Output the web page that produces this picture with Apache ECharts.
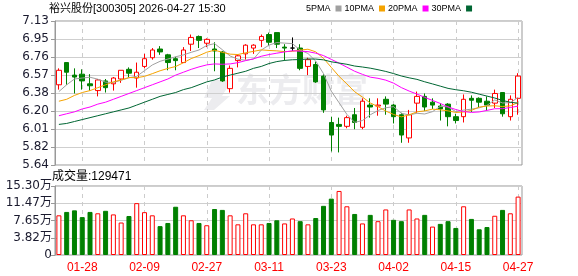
<!DOCTYPE html>
<html><head><meta charset="utf-8">
<script src="https://cdn.jsdelivr.net/npm/echarts@6/dist/echarts.min.js"></script>
<style>html,body{margin:0;padding:0;background:#fff}#c{width:578px;height:276px}</style>
</head><body><div id="c"></div>
<script>
const dates=['01-23','01-26','01-27','01-28','01-29','01-30','02-02','02-03','02-04','02-05','02-06','02-09','02-10','02-11','02-12','02-13','02-24','02-25','02-26','02-27','03-02','03-03','03-04','03-05','03-06','03-09','03-10','03-11','03-12','03-13','03-16','03-17','03-18','03-19','03-20','03-23','03-24','03-25','03-26','03-27','03-30','03-31','04-01','04-02','04-03','04-07','04-08','04-09','04-10','04-13','04-14','04-15','04-16','04-17','04-20','04-21','04-22','04-23','04-24','04-27'];
const opens=[6.47,6.70,6.57,6.58,6.48,6.41,6.51,6.48,6.53,6.63,6.54,6.66,6.75,6.84,6.78,6.74,6.70,6.89,6.97,6.90,6.84,6.81,6.43,6.72,6.79,6.85,6.93,6.99,7.01,6.86,6.85,6.85,6.66,6.68,6.56,6.08,6.06,6.04,6.16,6.03,6.26,6.25,6.32,6.26,6.16,5.92,6.28,6.35,6.29,6.25,6.27,6.14,6.14,6.33,6.33,6.30,6.28,6.39,6.14,6.33];
const closes=[6.62,6.60,6.55,6.51,6.46,6.52,6.44,6.54,6.62,6.59,6.60,6.74,6.83,6.81,6.70,6.72,6.83,6.96,6.93,6.94,6.82,6.51,6.64,6.77,6.88,6.88,6.97,6.91,6.89,6.85,6.85,6.64,6.73,6.50,6.21,5.95,6.04,6.13,6.08,6.30,6.24,6.26,6.27,6.14,5.95,6.16,6.35,6.24,6.26,6.22,6.14,6.10,6.32,6.31,6.29,6.26,6.38,6.17,6.32,6.56];
const lows=[6.42,6.47,6.38,6.42,6.41,6.35,6.39,6.41,6.49,6.55,6.44,6.64,6.73,6.78,6.62,6.62,6.70,6.82,6.85,6.86,6.61,6.50,6.39,6.65,6.73,6.79,6.86,6.87,6.85,6.72,6.82,6.62,6.57,6.49,6.18,5.78,5.77,6.02,6.01,6.01,6.13,6.15,6.16,6.07,5.87,5.87,6.18,6.20,6.22,6.10,6.04,6.07,6.08,6.19,6.24,6.20,6.23,6.14,6.10,6.16];
const highs=[6.64,6.70,6.64,6.63,6.58,6.53,6.53,6.55,6.62,6.65,6.70,6.79,6.85,6.87,6.79,6.76,6.86,6.99,6.98,6.95,6.91,6.82,6.67,6.78,6.89,6.89,6.99,7.01,7.01,6.89,6.96,6.89,6.75,6.71,6.58,6.14,6.13,6.15,6.23,6.33,6.33,6.33,6.35,6.27,6.18,6.21,6.40,6.38,6.33,6.28,6.28,6.17,6.37,6.36,6.34,6.35,6.42,6.39,6.36,6.59];
const ma5=[6.40,6.47,6.53,6.54,6.548,6.528,6.497,6.494,6.517,6.542,6.558,6.616,6.675,6.713,6.736,6.760,6.779,6.806,6.830,6.877,6.896,6.833,6.768,6.735,6.724,6.736,6.829,6.881,6.907,6.901,6.896,6.829,6.794,6.715,6.585,6.404,6.284,6.164,6.081,6.100,6.159,6.204,6.232,6.244,6.175,6.158,6.175,6.168,6.192,6.246,6.242,6.192,6.208,6.218,6.232,6.257,6.313,6.282,6.285,6.339];
const ma10=[6.30,6.32,6.36,6.39,6.41,6.44,6.47,6.50,6.52,6.545,6.543,6.557,6.585,6.615,6.639,6.659,6.698,6.741,6.772,6.807,6.828,6.806,6.787,6.783,6.801,6.816,6.831,6.825,6.821,6.813,6.816,6.829,6.838,6.811,6.743,6.650,6.557,6.479,6.398,6.343,6.282,6.244,6.198,6.163,6.138,6.159,6.190,6.200,6.218,6.211,6.200,6.184,6.188,6.205,6.239,6.250,6.253,6.245,6.252,6.286];
const ma20=[6.15,6.17,6.19,6.22,6.24,6.27,6.29,6.32,6.35,6.38,6.41,6.44,6.47,6.50,6.53,6.57,6.60,6.63,6.655,6.676,6.686,6.682,6.686,6.699,6.720,6.738,6.765,6.783,6.797,6.810,6.822,6.818,6.813,6.797,6.772,6.733,6.694,6.652,6.610,6.578,6.549,6.537,6.518,6.487,6.441,6.405,6.374,6.340,6.308,6.277,6.241,6.214,6.193,6.184,6.189,6.205,6.222,6.223,6.235,6.249];
const ma30=[6.06,6.07,6.09,6.11,6.13,6.15,6.17,6.19,6.21,6.23,6.26,6.29,6.32,6.35,6.37,6.39,6.42,6.44,6.47,6.50,6.52,6.55,6.57,6.59,6.61,6.64,6.66,6.69,6.71,6.722,6.729,6.731,6.737,6.736,6.728,6.708,6.695,6.682,6.664,6.654,6.642,6.626,6.608,6.586,6.561,6.542,6.526,6.501,6.479,6.456,6.433,6.419,6.408,6.393,6.373,6.353,6.333,6.308,6.289,6.280];
const volumes=[88000,95500,99000,84000,95500,92500,98000,90000,72000,86500,115000,95000,88000,64000,71000,107000,88000,77000,71000,66000,102000,100000,88000,68000,92500,68000,68000,71000,77000,70000,81000,75000,68000,82000,109000,125000,142000,108000,91000,70000,89000,75000,101000,78000,75000,101000,81000,89000,63000,69000,75000,60000,108000,80000,57000,62000,87000,100000,92500,129471];
const volUp=[1,0,0,0,0,1,0,1,1,0,1,1,1,0,0,0,1,1,0,1,0,0,1,1,1,1,1,0,0,1,1,0,1,0,0,0,1,1,0,1,0,1,1,0,0,1,1,0,1,0,0,0,1,0,0,0,1,0,1,1];
const priceLabels=['5.64','5.82','6.01','6.20','6.38','6.57','6.76','6.95','7.13'];
const volLabels=['0','3.82万','7.65万','11.47万','15.30万'];
const priceMin=5.64, priceMax=7.13;
const volMax=153000, volStep=38250;
const titleText='裕兴股份[300305] 2026-04-27 15:30';
const volText='成交量:129471';

const kData=opens.map((o,i)=>[o,closes[i],lows[i],highs[i]]);
const volData=volumes.map((v,i)=>({value:v,itemStyle:volUp[i]?{color:'#fff',borderColor:'#ff0000',borderWidth:1}:{color:'#008000',borderColor:'#008000',borderWidth:1}}));
const showIdx=(i)=>i%8===3;
const labelFont='DejaVu Sans';

const chart=echarts.init(document.getElementById('c'),null,{renderer:'canvas'});
chart.setOption({
  animation:false,
  backgroundColor:'#fff',
  title:{text:titleText,left:49,top:3,padding:0,textStyle:{fontSize:11,fontWeight:'normal',color:'#000',fontFamily:'Liberation Sans, Noto Sans CJK SC'}},
  legend:{left:306,top:4,padding:0,align:'right',icon:'rect',itemWidth:6,itemHeight:6,itemGap:3,
    textStyle:{fontSize:9,color:'#000',fontFamily:'Liberation Sans'},
    data:['5PMA','10PMA','20PMA','30PMA']},
  graphic:[
    {type:'polygon',z:0,silent:true,shape:{points:[[212,80],[232,80],[222,96],[230,96],[214,110],[204,110],[212,98],[204,98]]},style:{fill:'#ececef'}},
    {type:'text',left:236,top:73,z:0,silent:true,style:{text:'东方财富',fill:'#ececef',font:'bold 33px "Noto Sans CJK SC"'}},
    {type:'text',left:52,top:171,silent:true,style:{text:volText,fill:'#000',font:'12px "Liberation Sans","Noto Sans CJK SC"'}}
  ],
  grid:[
    {left:55,right:56,top:21,height:144,show:true,borderColor:'#999',borderWidth:1,backgroundColor:'transparent'},
    {left:55,right:56,top:186,height:69,show:true,borderColor:'#999',borderWidth:1,backgroundColor:'transparent'}
  ],
  xAxis:[
    {type:'category',gridIndex:0,data:dates,boundaryGap:true,axisLine:{show:false},axisTick:{show:false},axisLabel:{show:false},
      splitLine:{show:true,interval:(i)=>showIdx(i),alignWithLabel:true,lineStyle:{color:'#ccc',type:[4,4],width:1}}},
    {type:'category',gridIndex:1,data:dates,boundaryGap:true,axisLine:{show:false},axisTick:{show:false},
      axisLabel:{show:true,interval:(i)=>showIdx(i),color:'#ff0000',fontSize:12,fontFamily:'Liberation Sans',margin:7},
      splitLine:{show:true,interval:(i)=>showIdx(i),alignWithLabel:true,lineStyle:{color:'#ccc',type:[4,4],width:1}}}
  ],
  yAxis:[
    {type:'value',gridIndex:0,min:priceMin,max:priceMax,show:false,splitLine:{show:false}},
    {type:'value',gridIndex:0,min:0,max:priceLabels.length-1,interval:1,position:'left',
      axisLine:{show:true,lineStyle:{color:'#999'}},axisTick:{show:true,length:4,lineStyle:{color:'#999'}},
      axisLabel:{margin:6,color:'#1a1a2e',fontSize:12,fontFamily:labelFont,formatter:(v)=>priceLabels[Math.round(v)]},
      splitLine:{show:true,lineStyle:{color:'#cfcfcf',width:1}}},
    {type:'value',gridIndex:1,min:0,max:volMax,interval:volStep,
      axisLine:{show:true,lineStyle:{color:'#999'}},axisTick:{show:true,length:4,lineStyle:{color:'#999'}},
      axisLabel:{margin:3,color:'#1a1a2e',fontSize:12,fontFamily:labelFont+', Noto Sans CJK SC',formatter:(v)=>volLabels[Math.round(v/volStep)]},
      splitLine:{show:true,lineStyle:{color:'#cfcfcf',width:1}}}
  ],
  series:[
    {name:'K',type:'candlestick',xAxisIndex:0,yAxisIndex:0,data:kData,barWidth:5,z:3,
      itemStyle:{color:'#fff',color0:'#008000',borderColor:'#ff0000',borderColor0:'#008000',borderColorDoji:'#000',borderWidth:1}},
    {name:'5PMA',type:'line',xAxisIndex:0,yAxisIndex:0,data:ma5,symbol:'none',z:4,color:'#a0a0a0',lineStyle:{width:1,color:'#a0a0a0'}},
    {name:'10PMA',type:'line',xAxisIndex:0,yAxisIndex:0,data:ma10,symbol:'none',z:4,color:'#f5a300',lineStyle:{width:1,color:'#f5a300'}},
    {name:'20PMA',type:'line',xAxisIndex:0,yAxisIndex:0,data:ma20,symbol:'none',z:4,color:'#ff00ff',lineStyle:{width:1,color:'#ff00ff'}},
    {name:'30PMA',type:'line',xAxisIndex:0,yAxisIndex:0,data:ma30,symbol:'none',z:4,color:'#006633',lineStyle:{width:1,color:'#006633'}},
    {name:'VOL',type:'bar',xAxisIndex:1,yAxisIndex:2,data:volData,barWidth:5,z:3}
  ]
});
</script></body></html>
